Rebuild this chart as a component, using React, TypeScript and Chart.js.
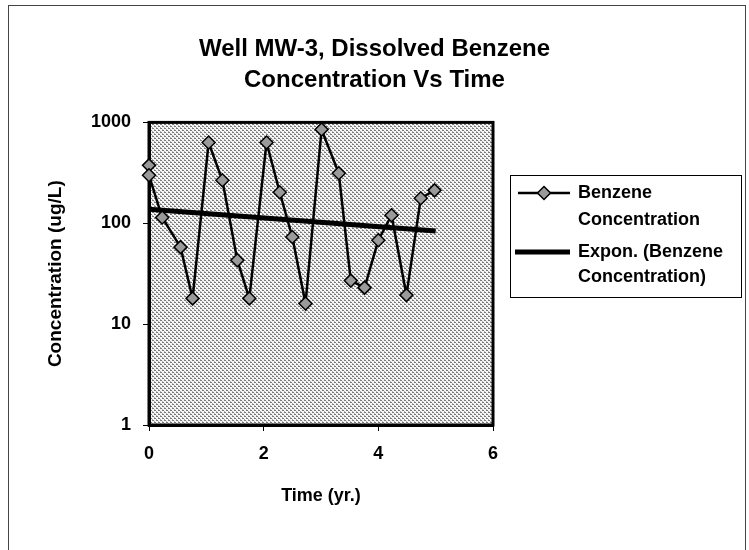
import React, { useEffect, useRef } from "react";
import { Chart, registerables } from "chart.js";

Chart.register(...registerables);

// ---- data ----
const sampleTimes = [0, 0, 0.23, 0.55, 0.76, 1.04, 1.28, 1.54, 1.75, 2.05, 2.28, 2.5, 2.73, 3.01, 3.31, 3.52, 3.76, 4.0, 4.23, 4.49, 4.74, 4.98];
const benzeneConc = [375, 299, 114, 58, 18, 632, 267, 43, 18, 632, 203, 73, 16, 850, 313, 27, 23, 68, 120, 19.4, 177, 212];
const trendTimes = [0, 5];
const trendConc = [138, 84];
const xTickValues = [0, 2, 4, 6];
const yTickValues = [1, 10, 100, 1000];
const titleLines = ["Well MW-3, Dissolved Benzene", "Concentration Vs Time"];
const seriesNames = ["Benzene Concentration", "Expon. (Benzene Concentration)"];
const legendLines = [["Benzene", "Concentration"], ["Expon. (Benzene", "Concentration)"]];

const FONT = '"Liberation Sans", Arial, sans-serif';

function makePattern(ctx: CanvasRenderingContext2D) {
  const c = document.createElement("canvas");
  c.width = 4;
  c.height = 4;
  const p = c.getContext("2d")!;
  p.fillStyle = "#f6f6f6";
  p.fillRect(0, 0, 4, 4);
  p.fillStyle = "#7a7a7a";
  [[0, 0], [1, 0], [2, 2], [3, 2]].forEach(([x, y]) => p.fillRect(x, y, 1, 1));
  p.fillStyle = "#b0b0b0";
  [[0, 3], [2, 1]].forEach(([x, y]) => p.fillRect(x, y, 1, 1));
  return ctx.createPattern(c, "repeat");
}

function diamond(ctx: CanvasRenderingContext2D, cx: number, cy: number, r: number) {
  ctx.beginPath();
  ctx.moveTo(cx, cy - r);
  ctx.lineTo(cx + r, cy);
  ctx.lineTo(cx, cy + r);
  ctx.lineTo(cx - r, cy);
  ctx.closePath();
}

export default function App() {
  const ref = useRef<HTMLCanvasElement>(null);

  useEffect(() => {
    document.body.style.margin = "0";
    const canvas = ref.current!;
    const ctx0 = canvas.getContext("2d")!;
    const pattern = makePattern(ctx0);

    const decor = {
      id: "decor",
      beforeDraw(chart: any) {
        const { ctx, chartArea } = chart;
        ctx.save();
        ctx.fillStyle = "#fff";
        ctx.fillRect(0, 0, chart.width, chart.height);
        ctx.fillStyle = pattern as any;
        ctx.fillRect(chartArea.left, chartArea.top, chartArea.right - chartArea.left, chartArea.bottom - chartArea.top);
        ctx.strokeStyle = "#444";
        ctx.lineWidth = 1;
        ctx.strokeRect(8.5, 5.5, 737, 600);
        ctx.restore();
      },
      beforeDatasetsDraw(chart: any) {
        const { ctx, chartArea } = chart;
        ctx.save();
        ctx.strokeStyle = "#000";
        ctx.lineWidth = 3;
        ctx.strokeRect(chartArea.left, chartArea.top, chartArea.right - chartArea.left, chartArea.bottom - chartArea.top);
        ctx.restore();
      },
      afterDraw(chart: any) {
        const { ctx } = chart;
        ctx.save();
        ctx.strokeStyle = "#000";
        ctx.lineWidth = 1;
        ctx.strokeRect(510.5, 175.5, 231, 122);
        ctx.lineWidth = 2.5;
        ctx.beginPath();
        ctx.moveTo(518, 193);
        ctx.lineTo(570, 193);
        ctx.stroke();
        diamond(ctx, 544, 193, 6.5);
        ctx.fillStyle = "#9a9a9a";
        ctx.fill();
        ctx.lineWidth = 1.5;
        ctx.stroke();
        ctx.lineWidth = 5;
        ctx.beginPath();
        ctx.moveTo(515, 252);
        ctx.lineTo(570, 252);
        ctx.stroke();
        ctx.fillStyle = "#000";
        ctx.font = `bold 18px ${FONT}`;
        ctx.textBaseline = "middle";
        ctx.textAlign = "left";
        ctx.fillText(legendLines[0][0], 578, 193);
        ctx.fillText(legendLines[0][1], 578, 220);
        ctx.fillText(legendLines[1][0], 578, 252);
        ctx.fillText(legendLines[1][1], 578, 277);
        ctx.restore();
      },
    };

    const chart = new Chart(canvas, {
      type: "line",
      data: {
        datasets: [
          {
            label: seriesNames[0],
            data: sampleTimes.map((t, i) => ({ x: t, y: benzeneConc[i] })),
            borderColor: "#000",
            borderWidth: 2.5,
            pointStyle: "rectRot",
            pointRadius: 6.5,
            pointBackgroundColor: "#9a9a9a",
            pointBorderColor: "#000",
            pointBorderWidth: 1.5,
            tension: 0,
            clip: false as any,
            xAxisID: "x",
            yAxisID: "y",
          },
          {
            label: seriesNames[1],
            data: trendTimes.map((t, i) => ({ x: t, y: trendConc[i] })),
            borderColor: "#000",
            borderWidth: 5,
            pointRadius: 0,
            tension: 0,
            xAxisID: "x",
            yAxisID: "y",
          },
        ],
      },
      options: {
        responsive: false,
        animation: false,
        layout: { padding: 0 },
        plugins: {
          legend: { display: false },
          tooltip: { enabled: false },
          title: {
            display: true,
            text: titleLines,
            color: "#000",
            font: { family: FONT, size: 24, weight: "bold", lineHeight: 1.3 },
            padding: { top: 34, bottom: 26 },
          },
        },
        scales: {
          x: {
            type: "linear",
            position: "bottom",
            min: 0,
            max: 6,
            afterBuildTicks: (s: any) => {
              s.ticks = xTickValues.map((v) => ({ value: v }));
            },
            ticks: { color: "#000", font: { family: FONT, size: 18, weight: "bold" }, padding: 12, maxRotation: 0 },
            grid: { display: true, drawOnChartArea: false, drawTicks: true, tickLength: 6, color: "#000", lineWidth: 1 },
            border: { display: true, color: "#000", width: 3 },
            title: {
              display: true,
              text: "Time (yr.)",
              color: "#000",
              font: { family: FONT, size: 18, weight: "bold" },
              padding: { top: 0, bottom: 43 },
            },
            afterFit: (s: any) => {
              s.height = 125;
            },
          },
          y: {
            type: "logarithmic",
            position: "left",
            min: 1,
            max: 1000,
            afterBuildTicks: (s: any) => {
              s.ticks = yTickValues.map((v) => ({ value: v }));
            },
            ticks: {
              color: "#000",
              font: { family: FONT, size: 18, weight: "bold" },
              padding: 12,
              callback: (v: any) => String(v),
            },
            grid: { display: true, drawOnChartArea: false, drawTicks: true, tickLength: 6, color: "#000", lineWidth: 1 },
            border: { display: true, color: "#000", width: 3 },
            title: {
              display: true,
              text: "Concentration (ug/L)",
              color: "#000",
              font: { family: FONT, size: 19, weight: "bold" },
              padding: { top: 44, bottom: 0 },
            },
            afterFit: (s: any) => {
              s.width = 149;
            },
          },
          yR: {
            type: "linear",
            position: "right",
            display: true,
            grid: { display: false },
            border: { display: false },
            ticks: { display: false },
            afterFit: (s: any) => {
              s.width = 256;
            },
          },
        },
      } as any,
      plugins: [decor],
    });

    return () => chart.destroy();
  }, []);

  return (
    <div style={{ width: 749, height: 550 }}>
      <canvas ref={ref} width={749} height={550} style={{ display: "block" }} />
    </div>
  );
}
